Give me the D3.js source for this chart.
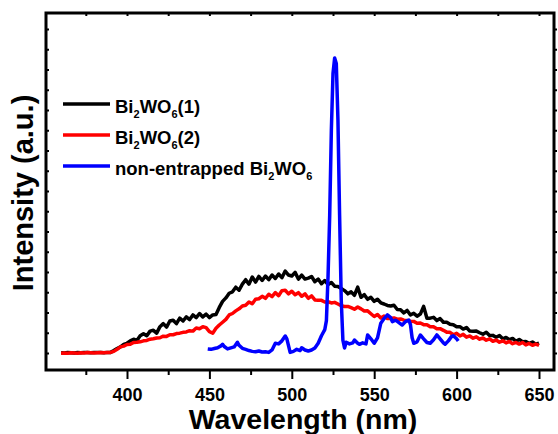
<!DOCTYPE html>
<html>
<head>
<meta charset="utf-8">
<script src="https://cdn.jsdelivr.net/npm/d3@7"></script>
<style>
body { margin: 0; background: #fff; }
text { font-family: "Liberation Sans", Arial, sans-serif; font-weight: bold; }
</style>
</head>
<body>
<svg width="558" height="434"></svg>
<script>
var wlStart = 360, wlStep = 2

var sample1 = [101,100,102,101,100,102,101,103,102,101,102,103,102,101,103,
    103,112,122,130,142,148,160,168,162,185,
    195,185,208,212,198,230,245,228,258,262,
    245,272,258,278,265,288,275,295,278,292,
    275,288,290,325,355,372,395,402,425,410,
    440,462,440,475,450,478,458,480,462,485,
    468,490,472,505,485,480,498,465,485,465,
    470,478,452,465,442,458,438,448,430,428,
    418,408,392,402,385,425,375,388,365,375,
    355,365,348,342,335,332,336,315,314,298,
    310,288,296,282,292,330,272,272,276,260,
    270,252,252,242,240,230,230,218,226,208,
    207,208,200,193,202,186,187,178,186,170,
    177,166,172,158,167,156,157,148,154,143,
    148]

var sample2 = [99,100,99,101,100,99,101,100,102,101,100,101,102,101,102,
    103,108,118,130,134,142,143,152,153,155,
    160,162,168,170,174,175,183,182,190,190,
    196,198,202,204,210,208,223,220,230,225,
    205,198,222,238,252,266,288,295,308,318,
    332,336,352,343,365,368,380,370,390,378,
    398,383,408,410,392,405,388,398,380,392,
    370,382,362,360,360,352,353,347,350,342,
    333,330,330,324,316,327,318,307,308,294,
    280,290,273,282,270,270,273,267,268,262,
    260,257,256,247,248,240,240,230,230,220,
    220,212,203,202,190,197,184,192,178,184,
    173,180,168,174,163,170,158,164,153,160,
    150,157,146,152,144,152,140,147,138,144,
    138]

// [wavelength, intensity]
var nonEntrapped = [[449,120],[451,118],[453,122],[455,126],[457,135],[458,143],[459,132],[461,120],
    [463,125],[465,130],[467,153],[468,138],[470,123],[472,118],[474,112],[476,108],[478,106],
    [480,110],[482,105],[484,106],[486,103],[488,115],[490,148],[492,145],[494,160],[496,184],
    [497,170],[499,103],[501,108],[503,118],[505,112],[506,126],[508,115],[510,110],[512,115],
    [514,125],[516,148],[518,185],[520,215],[521,260],[522,480],[523,781],[524,1200],[525,1480],
    [526,1557],[527,1530],[528,1251],[529,781],[530,362],[531,164],[532,125],[533,153],[535,145],
    [537,150],[538,164],[540,148],[541,143],[543,150],[545,145],[546,189],[548,170],[550,148],
    [552,175],[554,247],[556,270],[558,288],[560,275],[561,255],[563,262],[565,250],[567,238],
    [569,255],[571,263],[572,240],[573,175],[574,148],[576,155],[578,189],[580,170],[582,152],
    [584,148],[586,165],[588,189],[590,170],[592,150],[593,143],[595,160],[597,182],[598,185],
    [600,170],[601,159]]

var xMajor = [400,450,500,550,600,650]
var xMinor = [375,425,475,525,575,625]
var xTop = [375,400,425,450,475,500,525,550,575,600,625,650]
var yTicks = [100,200,300,400,500,600,700,800,900,1000,1100,1200,1300,1400,1500,1600,1700]

var svg = d3.select('svg'),
    plotL = 46, plotR = 554, plotT = 13, plotB = 370

var x = d3.scaleLinear().domain([350.85, 659.1]).range([plotL, plotR])
var y = d3.scaleLinear().domain([16, 1779]).range([plotB, plotT])

var series = [
    {name: ['Bi','2','WO','6','(1)'], color: '#000000', points: sample1.map((v,i)=>[wlStart + i*wlStep, v])},
    {name: ['Bi','2','WO','6','(2)'], color: '#ff0000', points: sample2.map((v,i)=>[wlStart + i*wlStep, v])},
    {name: ['non-entrapped Bi','2','WO','6'], color: '#0000ff', points: nonEntrapped}
]

var line = d3.line().x(d=>x(d[0])).y(d=>y(d[1]))

svg.append('g').selectAll('path')
    .data(series)
    .enter().append('path')
    .attr('d', d=>line(d.points))
    .attr('fill', 'none')
    .attr('stroke', d=>d.color)
    .attr('stroke-width', 3.5)
    .attr('stroke-linejoin', 'round')

// axes
function styleAxis(g){
    g.select('.domain').remove()
    g.selectAll('line').attr('stroke', '#000').attr('stroke-width', 2)
    g.selectAll('text').attr('fill', '#000').style('font-size', '18px')
}

svg.append('g')
    .attr('transform', `translate(0,${plotB})`)
    .call(d3.axisBottom(x).tickValues(xMajor).tickSize(9).tickPadding(9).tickFormat(d3.format('d')))
    .call(styleAxis)

svg.append('g')
    .attr('transform', `translate(0,${plotB})`)
    .call(d3.axisBottom(x).tickValues(xMinor).tickSize(5).tickFormat(''))
    .call(styleAxis)

svg.append('g')
    .attr('transform', `translate(0,${plotT})`)
    .call(d3.axisTop(x).tickValues(xTop).tickSize(-3).tickFormat(''))
    .call(styleAxis)

svg.append('g')
    .attr('transform', `translate(${plotL},0)`)
    .call(d3.axisLeft(y).tickValues(yTicks).tickSize(-3).tickFormat(''))
    .call(styleAxis)

svg.append('g')
    .attr('transform', `translate(${plotR},0)`)
    .call(d3.axisRight(y).tickValues(yTicks).tickSize(3).tickFormat(''))
    .call(styleAxis)

svg.append('rect')
    .attr('x', plotL).attr('y', plotT)
    .attr('width', plotR - plotL).attr('height', plotB - plotT)
    .attr('fill', 'none')
    .attr('stroke', '#000')
    .attr('stroke-width', 3)

// titles
svg.append('text')
    .attr('x', 303).attr('y', 429)
    .attr('text-anchor', 'middle')
    .style('font-size', '28.5px')
    .text('Wavelength (nm)')

svg.append('text')
    .attr('transform', 'translate(33,193) rotate(-90)')
    .attr('text-anchor', 'middle')
    .style('font-size', '29px')
    .text('Intensity (a.u.)')

// legend
var legend = svg.append('g').selectAll('g')
    .data(series)
    .enter().append('g')
    .attr('transform', (d,i)=>`translate(0,${104 + i*31})`)

legend.append('line')
    .attr('x1', 63).attr('x2', 110)
    .attr('stroke', d=>d.color)
    .attr('stroke-width', 3.5)

legend.append('text')
    .attr('x', 115).attr('y', 8.5)
    .style('font-size', '18.5px')
    .each(function(d){
        var t = d3.select(this)
        d.name.forEach((part,k)=>{
            var sub = k % 2 == 1
            t.append('tspan')
                .attr('dy', sub ? 5 : (k > 0 ? -5 : 0))
                .style('font-size', sub ? '11px' : '18.5px')
                .text(part)
        })
    })
</script>
</body>
</html>
